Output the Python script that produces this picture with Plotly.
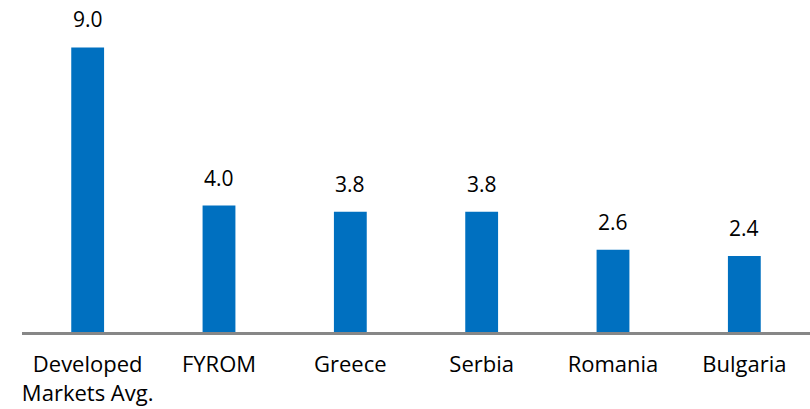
import plotly.graph_objects as go

categories = ["Developed<br>Markets Avg.", "FYROM", "Greece", "Serbia", "Romania", "Bulgaria"]
values = [9.0, 4.0, 3.8, 3.8, 2.6, 2.4]
labels = ["9.0", "4.0", "3.8", "3.8", "2.6", "2.4"]

FONT = "Open Sans"

fig = go.Figure(go.Bar(
    x=categories, y=values,
    marker=dict(color="#0070C0", line=dict(width=0)),
    width=0.25, cliponaxis=False, hoverinfo="x+y",
))
for c, v, t in zip(categories, values, labels):
    fig.add_annotation(x=c, y=v, text=t, showarrow=False, yanchor="bottom",
                       yshift=12, font=dict(size=21, color="#000000", family=FONT))
fig.update_layout(
    width=810, height=409,
    margin=dict(l=22, r=0, t=0, b=77, autoexpand=False),
    plot_bgcolor="white", paper_bgcolor="white",
    showlegend=False,
    font=dict(family=FONT, size=21, color="#000000"),
)
fig.update_xaxes(showline=True, linecolor="#878787", linewidth=3, ticks="",
                 ticklabelstandoff=11, showgrid=False, automargin=False,
                 tickfont=dict(size=22))
fig.update_yaxes(range=[0, 10.5], visible=False, showgrid=False, automargin=False)
fig.write_html("out.html", config={"displayModeBar": False},
               post_script="document.body.style.margin='0';document.body.style.overflow='hidden';")
